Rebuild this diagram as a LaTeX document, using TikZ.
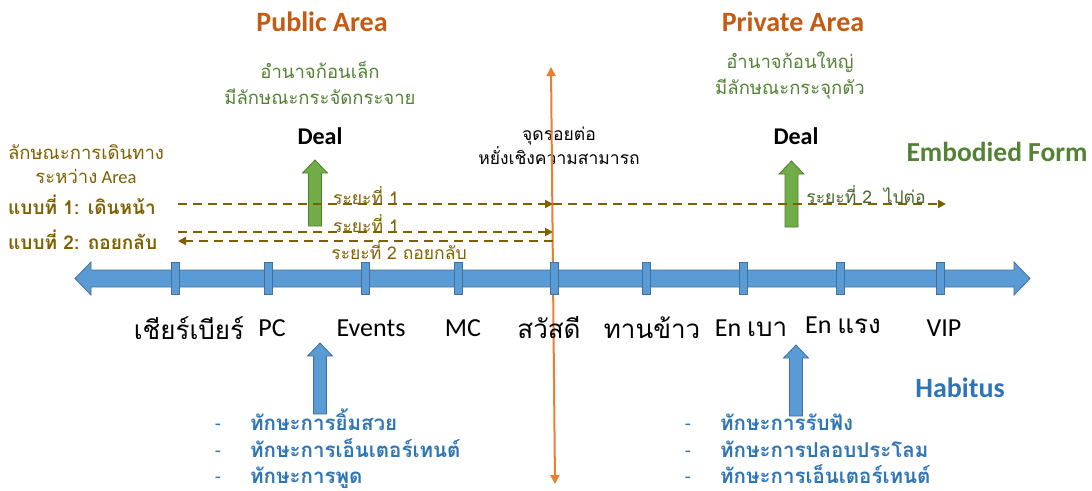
\documentclass[tikz,border=0pt]{standalone}
\usepackage{fontspec}
\setmainfont{Carlito}
\newfontfamily\thai[Script=Thai]{Loma}
\usetikzlibrary{arrows.meta}
\definecolor{orgtxt}{HTML}{C55A11}
\definecolor{orgline}{HTML}{ED7D31}
\definecolor{grntxt}{HTML}{548235}
\definecolor{grnfill}{HTML}{70AD47}
\definecolor{grnedge}{HTML}{507E32}
\definecolor{bluefill}{HTML}{5B9BD5}
\definecolor{blueedge}{HTML}{41719C}
\definecolor{bluetxt}{HTML}{2E75B6}
\definecolor{olivec}{HTML}{7F6000}
\newcommand\fsz[2]{\fontsize{#1}{#2}\selectfont}
\newcommand\UpArr[5]{\path[#1] (#2-12.5,#4) -- (#2,#3) -- (#2+12.5,#4) -- (#2+6.5,#4) -- (#2+6.5,#5) -- (#2-6.5,#5) -- (#2-6.5,#4) -- cycle;}
\tikzset{
  area/.style={text=orgtxt, font=\fsz{28}{32}\bfseries},
  power/.style={text=grntxt, align=center, font=\thai\fsz{18.5}{26}},
  deal/.style={font=\fsz{24}{28}\bfseries},
  greenarr/.style={fill=grnfill, draw=grnedge, line width=0.8pt},
  bluearr/.style={fill=bluefill, draw=blueedge, line width=0.8pt},
  tickmark/.style={rectangle, fill=bluefill, draw=blueedge, line width=0.8pt, minimum width=8pt, minimum height=32pt, inner sep=0pt},
  stage/.style={font=\fsz{26}{30}},
  trip/.style={draw=olivec, line width=2pt, dash pattern=on 9pt off 6pt, -{Triangle[length=8pt,width=8pt]}},
  tripl/.style={text=olivec, font=\thai\fsz{17.5}{20}, inner sep=0pt},
  skill/.style={text=bluetxt, anchor=base west, font=\thai\fsz{20.5}{24}\bfseries, inner sep=0pt},
  dashmk/.style={text=bluetxt, anchor=base, font=\fsz{20}{24}, inner sep=0pt},
  mode/.style={text=olivec, anchor=west, font=\thai\fsz{19}{22}\bfseries, inner sep=0pt},
}
\begin{document}
\begin{tikzpicture}[x=1pt,y=-1pt]
\path[use as bounding box, fill=white] (0,0) rectangle (1092,490);
% titles
\node[area] (pub) at (322,22) {Public Area};
\node[area] (priv) at (793,22) {Private Area};
\node[power] (pw1) at (320,83) {อำนาจก้อนเล็ก\\มีลักษณะกระจัดกระจาย};
\node[power] (pw2) at (790,75.5) {อำนาจก้อนใหญ่\\มีลักษณะกระจุกตัว};
\node[deal] (deal1) at (320,136) {Deal};
\node[deal] (deal2) at (796,136) {Deal};
\node[align=center, font=\thai\fsz{17.5}{21}] (join) at (559,146) {จุดรอยต่อ\\หยั่งเชิงความสามารถ};
\node[text=grntxt, font=\fsz{27.5}{32}\bfseries, anchor=west] (emb) at (903,152) {Embodied Form};
\node[text=bluetxt, font=\fsz{28}{32}\bfseries] (hab) at (960,388) {Habitus};
\node[text=olivec, align=center, font=\fsz{18.5}{24}] (travel) at (86,164) {{\thai ลักษณะการเดินทาง}\\{\thai ระหว่าง} Area};
\node[mode] (m1) at (8,205) {แบบที่ 1: เดินหน้า};
\node[mode] (m2) at (8,240) {แบบที่ 2: ถอยกลับ};
% orange divider
\coordinate (otop) at (551,67);
\coordinate (obot) at (555,484);
\draw[orgline, line width=2pt, {Triangle[length=9pt,width=9pt]}-{Triangle[length=9pt,width=9pt]}] (otop) -- (obot);
% timeline
\path[bluearr] (75,278.5) -- (91,262) -- (91,270) -- (1014,270) -- (1014,262) -- (1030,278.5) -- (1014,295) -- (1014,287) -- (91,287) -- (91,295) -- cycle;
\foreach \n/\x in {t1/175,t2/268,t3/365,t4/458,t5/554,t6/646,t7/743,t8/840,t9/940}{
  \node[tickmark] (\n) at (\x,278.5) {};
}
\node[stage, font=\thai\fsz{26}{30}] (s1) at (189,328) {เชียร์เบียร์};
\node[stage] (s2) at (272,328) {PC};
\node[stage] (s3) at (371,328) {Events};
\node[stage] (s4) at (463,328) {MC};
\node[stage, font=\thai\fsz{26}{30}] (s5) at (549,328) {สวัสดี};
\node[stage, font=\thai\fsz{26}{30}] (s6) at (652,328) {ทานข้าว};
\node[stage] (s7) at (751,328) {En {\thai เบา}};
\node[stage] (s8) at (843,325) {En {\thai แรง}};
\node[stage] (s9) at (944,328) {VIP};
% green deal arrows
\UpArr{greenarr}{315}{160}{173}{226}
\UpArr{greenarr}{791.5}{161}{174}{227}
% blue habitus arrows
\UpArr{bluearr}{320}{343}{356}{414}
\UpArr{bluearr}{796}{345}{358}{416}
% trips
\coordinate (a1) at (178,204); \coordinate (b1) at (553,204); \coordinate (c1) at (946,204);
\coordinate (a2) at (178,232); \coordinate (b2) at (553,232);
\coordinate (a3) at (178,241); \coordinate (b3) at (553,241);
\draw[trip] (a1) -- (b1);
\draw[trip] (b1) -- (c1);
\draw[trip] (a2) -- (b2);
\draw[trip] (b3) -- (a3);
\node[tripl] (r1) at (366,196) {ระยะที่ 1};
\node[tripl, text=grntxt!80!black] (r2) at (866,195) {ระยะที่ 2 \ ไปต่อ};
\node[tripl] (r3) at (366,224) {ระยะที่ 1};
\node[tripl] (r4) at (399,251) {ระยะที่ 2 ถอยกลับ};
% skills
\foreach \y/\t [count=\i] in {430/ทักษะการยิ้มสวย,457/ทักษะการเอ็นเตอร์เทนต์,483/ทักษะการพูด}{
  \node[dashmk] (ld\i) at (218,\y) {-};
  \node[skill] (ls\i) at (250,\y) {\t};
}
\foreach \y/\t [count=\i] in {430/ทักษะการรับฟัง,457/ทักษะการปลอบประโลม,483/ทักษะการเอ็นเตอร์เทนต์}{
  \node[dashmk] (rd\i) at (688,\y) {-};
  \node[skill] (rs\i) at (720,\y) {\t};
}
\end{tikzpicture}
\end{document}
